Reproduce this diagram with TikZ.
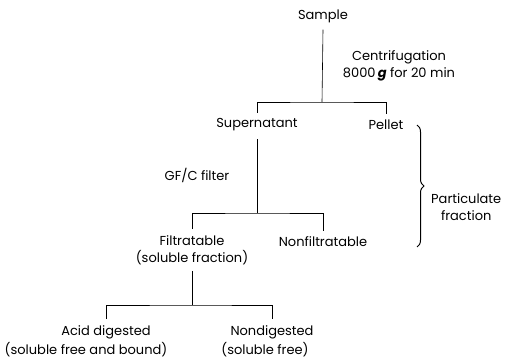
\documentclass[tikz,border=0pt]{standalone}
\usepackage{fontspec}
\setmainfont{Poppins}
\usepackage{tikz}
\usetikzlibrary{decorations.pathreplacing}

\begin{document}
\begin{tikzpicture}[
  x=1pt,y=-1pt,
  lbl/.style={inner sep=1pt,font=\fontsize{13}{17}\selectfont,align=center},
  link/.style={draw=black,line width=0.6pt},
  bracket/.style={draw=black,line width=1pt,decorate,decoration={brace,amplitude=7pt}}
]
  \useasboundingbox (0,0) rectangle (514,358);
  \node[lbl] (sample) at (323,16) {Sample};
  \node[lbl] (centrif) at (399,66) {Centrifugation\\8000\,{\bfseries\itshape g} for 20 min};
  \node[lbl] (super) at (257,125) {Supernatant};
  \node[lbl] (pellet) at (386,125) {Pellet};
  \node[lbl] (gfc) at (197,175) {GF/C filter};
  \node[lbl] (filt) at (192,250) {Filtratable\\(soluble fraction)};
  \node[lbl] (nonfilt) at (323,242) {Nonfiltratable};
  \node[lbl] (acid) at (106,332) {Acid digested};
  \node[lbl] (acidnote) at (86,350) {(soluble free and bound)};
  \node[lbl] (nondig) at (272,332) {Nondigested};
  \node[lbl] (nondignote) at (265,350) {(soluble free)};
  \node[lbl,anchor=west] (partic) at (430,207) {Particulate\\fraction};
  % split points
  \coordinate (split1) at (322,102);
  \coordinate (split2) at (257,213);
  \coordinate (split3) at (192,305);
  \coordinate (brtop) at (417,125);
  \coordinate (brbot) at (417,247);
  \path[link] ([yshift=-6pt]sample.south) -- (split1);
  \path[link] ([yshift=5pt]super.north) |- (split1) -| ([yshift=5pt]pellet.north);
  \path[link] ([yshift=-7pt]super.south) -- (split2);
  \path[link] ([yshift=5pt]filt.north) |- (split2) -| ([yshift=5pt]nonfilt.north);
  \path[link] ([yshift=-5pt]filt.south) -- (split3);
  \path[link] ([yshift=5pt]acid.north) |- (split3) -| ([yshift=5pt]nondig.north);
  \path[bracket] (brtop) -- (brbot);
\end{tikzpicture}
\end{document}
